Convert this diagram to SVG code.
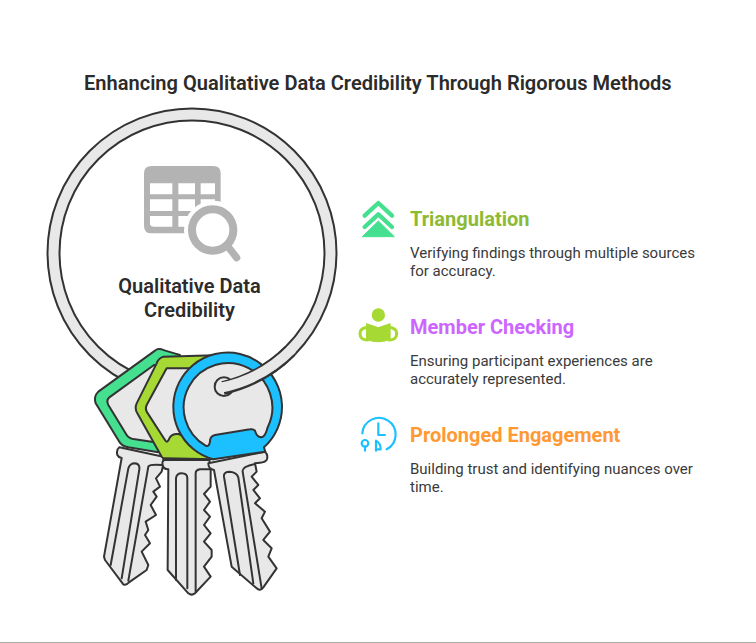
<svg xmlns="http://www.w3.org/2000/svg" width="756" height="643" viewBox="0 0 756 643">
<style>
text{font-family:Roboto,"Liberation Sans",sans-serif}
.t{font-size:20.070px;font-weight:600;fill:#2b2b2b}
.c{font-size:20px;font-weight:600;fill:#2b2b2b;text-anchor:middle}
.h{font-size:20px;font-weight:700}
.b{font-size:15px;fill:#3a3a3a}
.k{fill:#e8e8e8;stroke:#333;stroke-width:6;stroke-linejoin:round;stroke-linecap:round}
.l{fill:none;stroke:#333;stroke-width:6;stroke-linejoin:round;stroke-linecap:round}
</style>
<rect width="756" height="643" fill="#fff"/>
<rect y="642" width="756" height="1" fill="#aaa"/>
<text class="t" x="84" y="90">Enhancing Qualitative Data Credibility Through Rigorous Methods</text>
<g id="ring-back">
<circle cx="192" cy="253" r="138.500" fill="none" stroke="#333" stroke-width="14"/>
<circle cx="192" cy="253" r="138.500" fill="none" stroke="#e8e8e8" stroke-width="10"/>
</g>
<g id="center-icon">
<g transform="translate(130 155) scale(.3333)" fill="#b3b3b3">
<path fill-rule="evenodd" d="M65,33H250Q272,33 272,55V215Q272,235 250,235H65Q42,235 42,212V55Q42,33 65,33ZM60,85V118H127V85ZM145,85V118H195V85ZM212,85V118H255V85ZM60,133V168H127V133ZM145,133V168H195V133ZM212,133V168H255V133ZM60,183V205Q60,215 70,215H127V183ZM145,183V215H195V183Z"/>
<circle cx="250" cy="225" r="88" fill="#fff"/>
<circle cx="248" cy="225" r="62" fill="none" stroke="#b3b3b3" stroke-width="24"/>
<path d="M292,272L320,308" stroke="#b3b3b3" stroke-width="22" stroke-linecap="round"/>
</g>
</g>
<text class="c" x="189.500" y="293">Qualitative Data</text>
<text class="c" x="189.500" y="317">Credibility</text>
<g id="keys" transform="translate(80 340) scale(.3333)">
<g id="key-left">
<path class="k" d="M118,322Q108,330 112,345Q115,352 125,354L72,650L75,660L130,733Q138,737 147,727L200,690L205,675L185,635L210,610L195,585L205,570L197,545L228,525L212,495L230,470L220,455L240,440L228,415L245,395L250,372L250,350Z"/>
<path class="l" d="M92,675L145,385Q150,370 165,370Q180,372 178,388L125,715M145,722L205,380Q210,372 245,375"/>
<path d="M245,28Q232,25 225,32L55,155Q40,170 47,190L118,305Q125,318 145,322L235,337L300,45Q265,35 245,28Z" fill="#44e08f" stroke="#333" stroke-width="6" stroke-linejoin="round"/>
<path class="k" d="M222,75L88,172Q78,182 85,195L140,285Q147,296 165,298L225,307L280,90Z"/>
</g>
<g id="key-middle">
<path class="k" d="M255,360Q245,362 248,375Q250,388 265,388L263,690L325,760Q335,768 345,760L392,710L372,680L395,650L395,630L372,605L392,580L372,555L390,530L372,510L390,485L372,462L392,440L392,385L388,360Z"/>
<path class="l" d="M288,720L288,415Q290,400 305,400Q322,400 322,415L322,745M347,755L347,400Q347,390 360,388L390,388"/>
<path d="M250,50Q235,55 230,70L170,190Q163,205 172,220L245,350Q248,355 255,355L400,358L430,45Z" fill="#a6d934" stroke="#333" stroke-width="6" stroke-linejoin="round"/>
<path class="k" d="M260,85L200,195Q195,205 200,215L255,300Q262,312 268,295Q275,280 295,282L330,295L340,85Z"/>
</g>
<g id="key-right">
<path class="k" d="M385,370Q385,388 402,390L455,680L530,745Q540,755 550,742L590,685L565,650L575,625L550,600L570,575L545,535L555,515L525,490L540,475L520,450L535,435L515,410L530,395L525,370L540,368Q555,367 560,360Q566,345 555,335Z"/>
<path class="l" d="M480,705L432,410Q430,395 450,395Q470,397 475,412L520,730M545,745L488,395Q485,380 525,372"/>
<path d="M400,358A163,163 0 1 1 552,322Q554,330 556,335Z" fill="#1cc0ff" stroke="#333" stroke-width="6" stroke-linejoin="round"/>
<path class="k" d="M378,318A133,133 0 1 1 563,262Q556,292 543,292Q530,290 525,272Q520,266 510,268L405,285Q390,288 390,305Q388,320 378,318Z"/>
<circle cx="432" cy="140" r="28" fill="#e8e8e8" stroke="#333" stroke-width="6"/>
</g>
</g>
<g id="ring-front">
<path d="M290,351A138.500,138.500 0 0 1 223,388" fill="none" stroke="#333" stroke-width="14"/>
<path d="M292,349A138.500,138.500 0 0 1 219,388" fill="none" stroke="#e8e8e8" stroke-width="10"/>
</g>
<g id="item-triangulation">
<g transform="translate(350 195) scale(.3333)">
<path d="M44,62L85,24L126,62M44,96L85,58L126,96" fill="none" stroke="#44e08f" stroke-width="13" stroke-linecap="round" stroke-linejoin="round"/>
<path d="M85,78L133,125H37Z" fill="#44e08f" stroke="#44e08f" stroke-width="3" stroke-linejoin="round"/>
</g>
<text class="h" x="410" y="226" fill="#8dba35">Triangulation</text>
<text class="b" x="410" y="258">Verifying findings through multiple sources</text>
<text class="b" x="410" y="276">for accuracy.</text>
</g>
<g id="item-member-checking">
<g transform="translate(350 300) scale(.3333)" fill="#a6d934">
<circle cx="85" cy="45" r="20"/>
<path d="M50,72L85,84L120,72V118Q100,125 85,125Q70,125 50,118Z" stroke="#a6d934" stroke-width="4" stroke-linejoin="round"/>
<path d="M56,120Q30,122 30,100Q30,84 54,82M114,120Q140,122 140,100Q140,84 116,82" fill="none" stroke="#a6d934" stroke-width="9"/>
</g>
<text class="h" x="410" y="334" fill="#cc66ff">Member Checking</text>
<text class="b" x="410" y="366">Ensuring participant experiences are</text>
<text class="b" x="410" y="384">accurately represented.</text>
</g>
<g id="item-prolonged-engagement">
<g transform="translate(350 410) scale(.3333)" fill="none" stroke="#1cc0ff" stroke-width="6.500" stroke-linecap="round" stroke-linejoin="round">
<path d="M37,70A50,50 0 1 1 110,118"/>
<path d="M85,40V75H105"/>
<circle cx="45" cy="100" r="10"/>
<path d="M45,110V122"/>
<path d="M78,122V92Q92,100 92,118H78"/>
</g>
<text class="h" x="410" y="442" fill="#ff9933">Prolonged Engagement</text>
<text class="b" x="410" y="474">Building trust and identifying nuances over</text>
<text class="b" x="410" y="492">time.</text>
</g>
</svg>
